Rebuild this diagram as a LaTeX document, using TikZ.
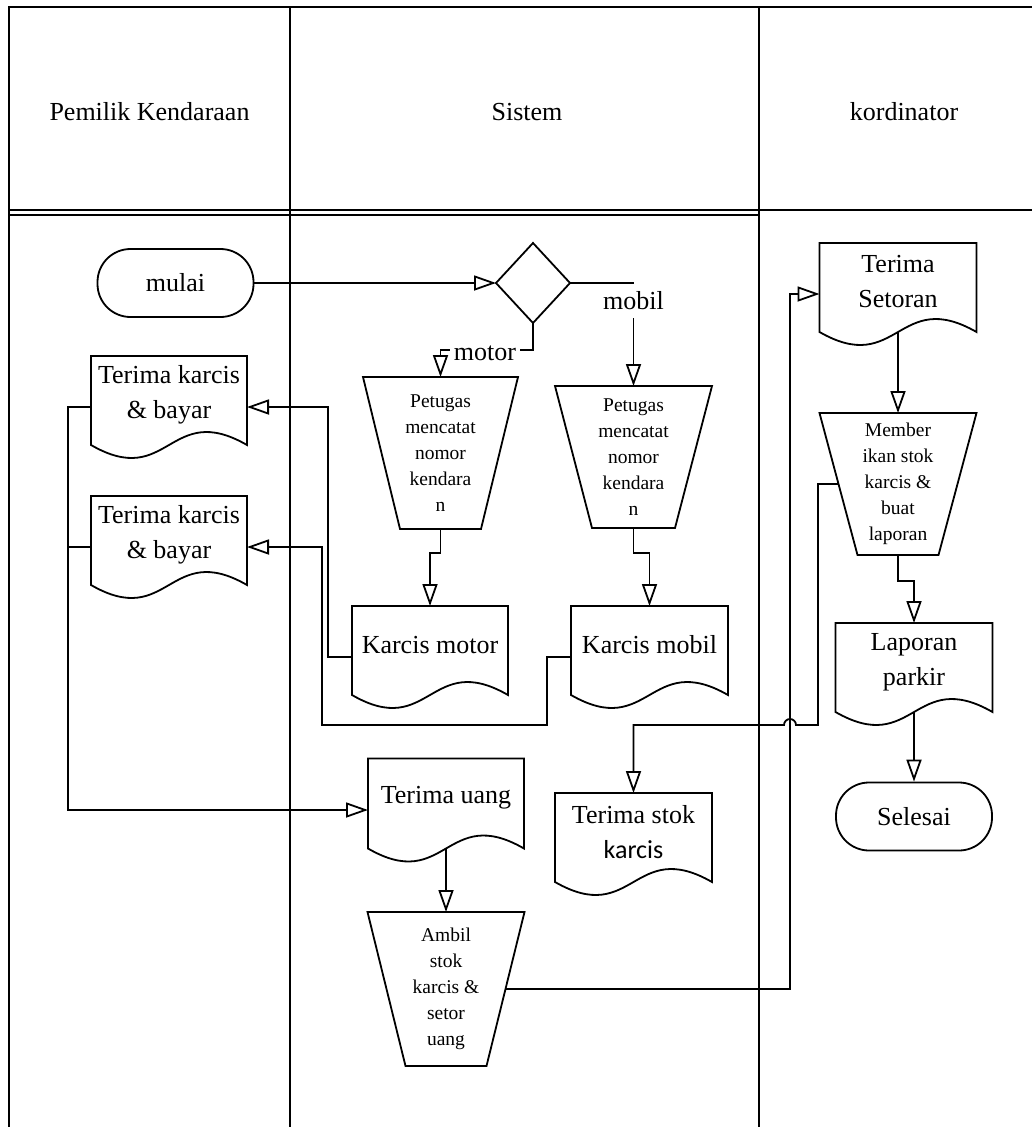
\documentclass[tikz,border=0pt]{standalone}
\usepackage{fontspec}
\setmainfont{Liberation Serif}
\newfontfamily\sanskarcis{Carlito}
\usetikzlibrary{arrows.meta,calc}

\tikzset{
  outline/.style={line width=1.8pt, line join=miter},
  link/.style={line width=1.8pt},
  flow/.style={line width=1.8pt, -{Triangle[open,length=22pt,width=15pt]}},
  box/.style={draw=none, inner sep=0pt, outer sep=0pt},
  bigtext/.style={font=\fontsize{26}{35}\selectfont, align=center, inner sep=0pt},
  smalltext/.style={font=\fontsize{19.5}{26}\selectfont, align=center, inner sep=0pt},
  lbl/.style={font=\fontsize{26}{35}\selectfont, fill=white, inner sep=1pt},
  terminal/.style={draw, line width=1.8pt, rounded corners=33pt, minimum width=156pt,
    minimum height=68pt, inner sep=0pt, font=\fontsize{26}{35}\selectfont},
}

% document symbol: name, x, y, width, height, text
\newcommand\docnode[6]{%
  \node[box, minimum width=#4pt, minimum height=#5pt] (#1) at (#2,#3) {};
  \draw[outline] (#1.north west) -- ([yshift=13pt]#1.south west)
    .. controls ([yshift=-32pt]#1.south) and ([yshift=58pt]#1.south) .. ([yshift=13pt]#1.south east)
    -- (#1.north east) -- cycle;
  \node[bigtext] (#1-t) at ([yshift=12pt]#1.center) {#6};
}

% manual operation symbol: name, x, y, top width, height, inset, text
\newcommand\trapnode[7]{%
  \node[box, minimum width=#4pt, minimum height=#5pt] (#1) at (#2,#3) {};
  \draw[outline] (#1.north west) -- (#1.north east) -- ([xshift=-#6pt]#1.south east)
    -- ([xshift=#6pt]#1.south west) -- cycle;
  \coordinate (#1-w) at ([xshift=#6pt/2]#1.west);
  \coordinate (#1-e) at ([xshift=-#6pt/2]#1.east);
  \node[smalltext] (#1-t) at (#1.center) {#7};
}

\begin{document}
\begin{tikzpicture}[x=1pt,y=-1pt]
\useasboundingbox (0,0) rectangle (1032,1127);

% swimlane frame
\draw[link] (9,1127) -- (9,7) -- (1032,7);
\draw[link] (9,210) -- (1032,210);
\draw[link] (9,215) -- (759,215);
\draw[link] (290,7) -- (290,1127);
\draw[link] (759,7) -- (759,1127);

\node[bigtext] (lane1) at (149.5,112) {Pemilik Kendaraan};
\node[bigtext] (lane2) at (527,112) {Sistem};
\node[bigtext] (lane3) at (904,112) {kordinator};

% start / end
\node[terminal] (mulai) at (175.5,283) {mulai};
\node[terminal] (sel) at (914,816.5) {Selesai};

% decision
\node[box, minimum width=74pt, minimum height=80pt] (dia) at (533,283) {};
\draw[outline] (dia.north) -- (dia.east) -- (dia.south) -- (dia.west) -- cycle;

% documents
\docnode{tk1}{169}{407}{156}{102}{Terima karcis\\ \& bayar}
\docnode{tk2}{169}{547}{156}{102}{Terima karcis\\ \& bayar}
\docnode{km}{430}{657}{156}{102}{Karcis motor}
\docnode{kmob}{649.5}{657}{157}{102}{Karcis mobil}
\docnode{tu}{446}{810}{156}{103}{Terima uang}
\docnode{ts}{633.5}{844}{157}{102}{Terima stok\\ {\sanskarcis karcis}}
\docnode{tset}{898}{294}{157}{102}{Terima\\ Setoran}
\docnode{lp}{914}{674}{157}{102}{Laporan\\ parkir}

% manual operations
\trapnode{t1}{440.5}{453}{155}{152}{37}{Petugas\\ mencatat\\ nomor\\ kendara\\ n}
\trapnode{t2}{633.5}{457}{157}{142}{37}{Petugas\\ mencatat\\ nomor\\ kendara\\ n}
\trapnode{mem}{898}{484}{157}{142}{38}{Member\\ ikan stok\\ karcis \&\\ buat\\ laporan}
\trapnode{amb}{446}{989}{157}{154}{38}{Ambil\\ stok\\ karcis \&\\ setor\\ uang}

\coordinate (hop) at (790,725);
\coordinate (bend) at (818,725);

% flows
\draw[flow] (mulai.east) -- (dia.west);
\draw[flow] (dia.east) -| node[lbl, inner ysep=8pt, pos=0.587] {mobil} (t2.north);
\draw[flow] (dia.south) -- ++(0,27) -| node[lbl, inner xsep=4pt, yshift=-3pt, pos=0.26] {motor} (t1.north);
\draw[flow] (t1.south) -- ++(0,24) -| (km.north);
\draw[flow] (t2.south) -- ++(0,25) -| (kmob.north);
\draw[flow] (km.west) -- ++(-24,0) |- (tk1.east);
\draw[flow] (kmob.west) -- ++(-24,0) -- ++(0,68) -| ([xshift=75pt]tk2.east) -- (tk2.east);
\draw[flow] (tk1.west) -- ++(-23,0) |- (tu.west);
\draw[link] (tk2.west) -- ++(-23,0);
\draw[flow] ([yshift=13pt]tu.south) -- (amb.north);
\draw[flow] (amb-e) -| (hop |- tset.west) -- (tset.west);
\draw[flow] ([yshift=13pt]tset.south) -- (mem.north);
\draw[flow] (mem.south) -- ++(0,26) -| (lp.north);
\draw[flow] (mem-w) -| (bend) -- ([xshift=6pt]hop) arc[start angle=0,end angle=180,radius=6pt] -| (ts.north);
\draw[flow] ([yshift=13pt]lp.south) -- (sel.north);
\end{tikzpicture}
\end{document}
